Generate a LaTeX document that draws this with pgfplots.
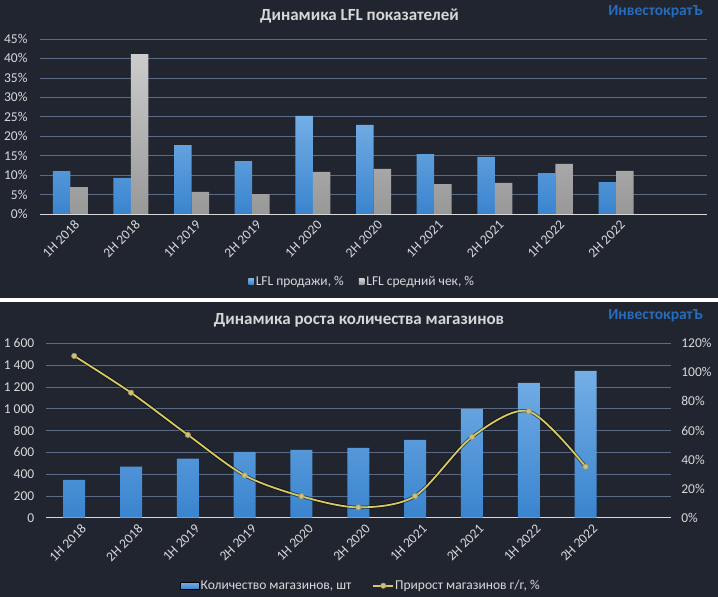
\documentclass[border=0pt]{standalone}
\usepackage{pgfplots}
\pgfplotsset{compat=1.18}
\usepackage{fontspec}
\setmainfont{Carlito}
\definecolor{bgc}{RGB}{32,37,47}
\definecolor{gridc}{RGB}{90,105,132}
\definecolor{txtc}{RGB}{217,217,217}
\definecolor{blueTop}{RGB}{116,174,230}
\definecolor{blueBot}{RGB}{58,132,206}
\definecolor{greyTop}{RGB}{204,204,204}
\definecolor{greyBot}{RGB}{152,152,152}
\definecolor{logoc}{RGB}{38,108,190}
\definecolor{linec}{RGB}{214,200,100}
\definecolor{markc}{RGB}{205,192,135}

\pgfplotsset{
  panel/.style={
    scale only axis,
    anchor=south west,
    xmin=-0.5, xmax=10.5,
    xtick={0,...,9},
    xticklabels={1H 2018,2H 2018,1H 2019,2H 2019,1H 2020,2H 2020,1H 2021,2H 2021,1H 2022,2H 2022},
    tick style={draw=none},
    major tick length=0pt,
    ymajorgrids,
    grid style={gridc, line width=0.7pt},
    axis x line*=bottom,
    axis y line*=left,
    y axis line style={draw=none},
    x axis line style={draw=txtc, line width=0.9pt, -},
    ticklabel style={font=\fontsize{13.5}{15}\selectfont, text=txtc},
    /pgf/number format/assume math mode=true,
    legend style={draw=none, fill=none, text=txtc, font=\fontsize{13.5}{15}\selectfont,
      legend columns=-1, nodes={inner xsep=2pt},
      /tikz/every even column/.append style={column sep=13pt}},
  },
  smallsq/.style={legend image code/.code={\fill[##1] (0pt,-2.8pt) rectangle (5.5pt,2.8pt);}},
  bigbarleg/.style={legend image code/.code={\fill[top color=blueTop, bottom color=blueBot] (0pt,-3.5pt) rectangle (19pt,3.5pt);}},
  lineleg/.style={legend image code/.code={\draw[mark repeat=2,mark phase=2,##1] plot coordinates {(0pt,0pt) (10pt,0pt) (20pt,0pt)};}},
}

\begin{document}
\begin{tikzpicture}[x=1pt,y=1pt]
\fill[bgc] (0,299) rectangle (718,597);
\fill[white] (0,295) rectangle (718,299);
\fill[bgc] (0,0) rectangle (718,295);
\useasboundingbox (0,0) rectangle (718,597);

\node[text=txtc!105, font=\fontsize{17}{19}\selectfont\bfseries] at (359.5,581) {Динамика LFL показателей};
\node[text=logoc, font=\fontsize{15.5}{17}\selectfont\bfseries] at (655.5,585) {ИнвестократЪ};
\node[text=txtc!105, font=\fontsize{17}{19}\selectfont\bfseries] at (359,277) {Динамика роста количества магазинов};
\node[text=logoc, font=\fontsize{15.5}{17}\selectfont\bfseries] at (655.5,281) {ИнвестократЪ};

% top panel
\begin{axis}[panel, at={(40pt,383pt)}, width=667pt, height=175pt,
  ybar=0pt, bar width=17.5pt, ymin=0, ymax=45, ytick={0,5,...,45},
  yticklabel={\pgfmathprintnumber{\tick}\%},
  yticklabel style={xshift=-9pt},
  xticklabel style={rotate=45, anchor=east, xshift=2pt, yshift=-11pt},
  legend style={at={(0.483,-0.387)}, anchor=center},
  smallsq,
]
\addplot[draw=none, top color=blueTop, bottom color=blueBot] coordinates {
(0,11.0) (1,9.3) (2,17.7) (3,13.6) (4,25.2) (5,22.9) (6,15.4) (7,14.7) (8,10.5) (9,8.2)};
\addlegendentry{LFL продажи, \%}
\addplot[draw=none, top color=greyTop, bottom color=greyBot] coordinates {
(0,6.9) (1,41.1) (2,5.7) (3,5.1) (4,10.8) (5,11.6) (6,7.7) (7,8.0) (8,12.9) (9,11.1)};
\addlegendentry{LFL средний чек, \%}
\end{axis}

% bottom panel, bars
\begin{axis}[panel, at={(45.8pt,79.3pt)}, width=625pt, height=174.4pt,
  ybar, bar width=22pt, ymin=0, ymax=1600, ytick={0,200,...,1600},
  yticklabels={0,200,400,600,800,1 000,1 200,1 400,1 600},
  yticklabel style={xshift=-8pt},
  xticklabel style={rotate=45, anchor=east, xshift=4pt, yshift=-13pt},
]
\addplot[draw=none, top color=blueTop, bottom color=blueBot] coordinates {
(0,348) (1,468) (2,541) (3,605) (4,623) (5,641) (6,715) (7,998) (8,1237) (9,1348)};
\end{axis}

% bottom panel, line on right axis
\begin{axis}[scale only axis, anchor=south west, at={(45.8pt,79.3pt)}, width=625pt, height=174.4pt,
  xmin=-0.5, xmax=10.5, ymin=0, ymax=120, ytick={0,20,...,120},
  axis y line*=right, hide x axis,
  y axis line style={draw=none}, tick style={draw=none}, major tick length=0pt,
  yticklabel={\pgfmathprintnumber{\tick}\%},
  ticklabel style={font=\fontsize{13.5}{15}\selectfont, text=txtc},
  /pgf/number format/assume math mode=true,
  yticklabel style={xshift=7pt},
  legend style={draw=none, fill=none, text=txtc, font=\fontsize{13.5}{15}\selectfont,
      legend columns=-1, nodes={inner xsep=1pt},
      /tikz/every even column/.append style={column sep=20pt},
      at={(0.5035,-0.39)}, anchor=center},
]
\addlegendimage{bigbarleg}
\addlegendentry{Количество магазинов, шт}
\addplot[forget plot, smooth, black, line width=3.4pt, opacity=0.55] coordinates {
(0,111.3) (1,86.0) (2,57.0) (3,29.1) (4,14.7) (5,7.1) (6,14.9) (7,55.5) (8,73.2) (9,35.1)};
\addplot[smooth, linec, line width=1.8pt, mark=*, mark size=2.7pt,
  mark options={fill=markc, draw=linec!75!black, line width=0.6pt},
  lineleg] coordinates {
(0,111.3) (1,86.0) (2,57.0) (3,29.1) (4,14.7) (5,7.1) (6,14.9) (7,55.5) (8,73.2) (9,35.1)};
\addlegendentry{Прирост магазинов г/г, \%}
\end{axis}
\end{tikzpicture}
\end{document}
